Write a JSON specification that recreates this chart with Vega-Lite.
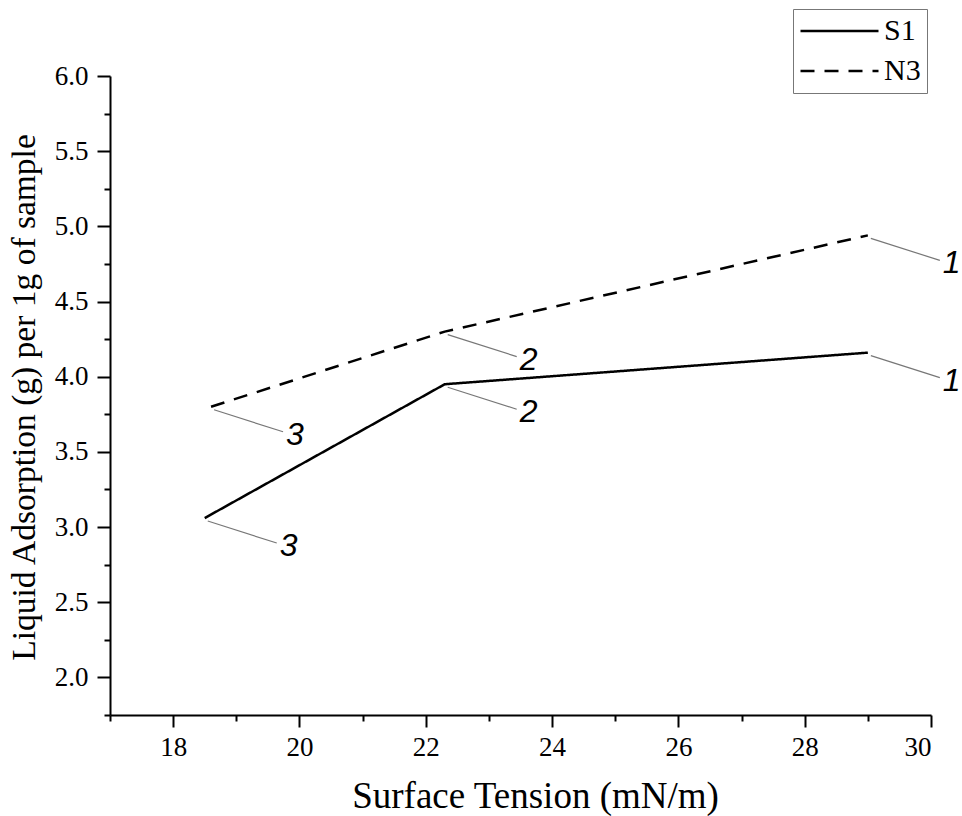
{
  "$schema": "https://vega.github.io/schema/vega-lite/v6.json",
  "width": 821,
  "height": 639,
  "autosize": "none",
  "padding": {"left": 110, "top": 76, "right": 31, "bottom": 101},
  "background": "white",
  "config": {
    "view": {"stroke": null},
    "axis": {
      "grid": false,
      "domainColor": "black",
      "domainWidth": 2,
      "tickColor": "black",
      "tickWidth": 2,
      "labelColor": "black",
      "labelFont": "Liberation Serif",
      "labelFontSize": 27,
      "titleFont": "Liberation Serif",
      "titleFontWeight": "normal",
      "titleColor": "black"
    }
  },
  "data": {
    "values": [
      {"tension": 18.5, "adsorption": 3.06, "series": "S1", "label": "3"},
      {"tension": 22.3, "adsorption": 3.95, "series": "S1", "label": "2"},
      {"tension": 29.0, "adsorption": 4.16, "series": "S1", "label": "1"},
      {"tension": 18.6, "adsorption": 3.80, "series": "N3", "label": "3"},
      {"tension": 22.3, "adsorption": 4.30, "series": "N3", "label": "2"},
      {"tension": 29.0, "adsorption": 4.94, "series": "N3", "label": "1"}
    ]
  },
  "layer": [
    {
      "mark": {
        "type": "rule", "color": "#777777", "strokeWidth": 1.2,
        "xOffset": 3, "yOffset": 3, "x2Offset": 72, "y2Offset": 25
      },
      "encoding": {
        "x": {
          "field": "tension", "type": "quantitative",
          "scale": {"domain": [17, 30], "nice": false, "zero": false},
          "axis": {
            "orient": "bottom",
            "values": [17, 19, 21, 23, 25, 27, 29],
            "labels": false,
            "domain": false,
            "tickSize": 6,
            "title": null
          }
        },
        "y": {
          "field": "adsorption", "type": "quantitative",
          "scale": {"domain": [1.75, 6.0], "nice": false, "zero": false},
          "axis": {
            "orient": "left",
            "values": [1.75, 2.25, 2.75, 3.25, 3.75, 4.25, 4.75, 5.25, 5.75],
            "labels": false,
            "domain": false,
            "tickSize": 6,
            "title": null
          }
        },
        "x2": {"field": "tension"},
        "y2": {"field": "adsorption"}
      }
    },
    {
      "mark": {"type": "line", "color": "black", "strokeWidth": 2.5},
      "encoding": {
        "x": {
          "field": "tension", "type": "quantitative",
          "axis": {
            "orient": "bottom",
            "values": [18, 20, 22, 24, 26, 28, 30],
            "tickSize": 12,
            "labelPadding": 7,
            "labelFont": "Liberation Serif",
            "labelFontSize": 27,
            "title": "Surface Tension (mN/m)",
            "titleFontSize": 37,
            "titleX": 425,
            "titleY": 92,
            "titleAlign": "center",
            "titleBaseline": "alphabetic"
          }
        },
        "y": {
          "field": "adsorption", "type": "quantitative",
          "axis": {
            "orient": "left",
            "values": [2.0, 2.5, 3.0, 3.5, 4.0, 4.5, 5.0, 5.5, 6.0],
            "format": ".1f",
            "tickSize": 13,
            "labelPadding": 9,
            "labelFont": "Liberation Serif",
            "labelFontSize": 27,
            "title": "Liquid Adsorption (g) per 1g of sample",
            "titleFontSize": 33.5,
            "titleX": -76,
            "titleY": 321,
            "titleAngle": -90,
            "titleAlign": "center",
            "titleBaseline": "alphabetic"
          }
        },
        "strokeDash": {
          "field": "series", "type": "nominal",
          "scale": {"domain": ["S1", "N3"], "range": [[1, 0], [14, 10]]},
          "legend": {
            "title": null,
            "orient": "none",
            "legendX": 683,
            "legendY": -67,
            "symbolType": "stroke",
            "symbolSize": 6084,
            "clipHeight": 32,
            "symbolStrokeColor": "black",
            "symbolStrokeWidth": 2.5,
            "labelFont": "Liberation Serif",
            "labelFontSize": 30,
            "labelColor": "black",
            "labelOffset": 4,
            "rowPadding": 8,
            "padding": 6,
            "strokeColor": "#777777",
            "fillColor": "white"
          }
        }
      }
    },
    {
      "mark": {
        "type": "text", "font": "Liberation Sans", "fontStyle": "italic",
        "fontSize": 32, "color": "black", "align": "left",
        "baseline": "alphabetic", "dx": 75, "dy": 38
      },
      "encoding": {
        "x": {"field": "tension", "type": "quantitative", "axis": null},
        "y": {"field": "adsorption", "type": "quantitative", "axis": null},
        "text": {"field": "label"}
      }
    }
  ],
  "resolve": {"axis": {"x": "independent", "y": "independent"}}
}
